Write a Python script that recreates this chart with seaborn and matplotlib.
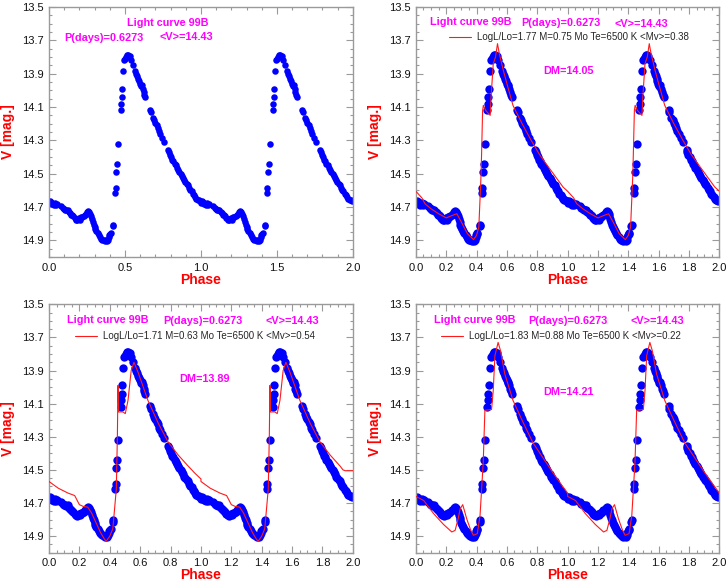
import matplotlib
matplotlib.use("Agg")
import pandas as pd
import matplotlib.pyplot as plt
from matplotlib.ticker import FixedLocator, MultipleLocator, FormatStrFormatter
import seaborn as sns

# observed V light curve of star 99B, one cycle (plotted twice: phase and phase + 1)
OBS_PHASE = [
    0.000, 0.008, 0.015, 0.022, 0.030, 0.038, 0.045, 0.055, 0.080, 0.090,
    0.100, 0.108, 0.115, 0.122, 0.130, 0.138, 0.145, 0.152, 0.160, 0.168,
    0.175, 0.180, 0.186, 0.192, 0.198, 0.205, 0.212, 0.220, 0.228, 0.236,
    0.244, 0.252, 0.258, 0.264, 0.270, 0.276, 0.282, 0.288, 0.294, 0.300,
    0.306, 0.312, 0.320, 0.328, 0.336, 0.344, 0.352, 0.360, 0.368, 0.376,
    0.384, 0.390, 0.394, 0.398, 0.402, 0.406, 0.420, 0.424, 0.436, 0.438,
    0.444, 0.448, 0.455, 0.472, 0.475, 0.478, 0.482, 0.488, 0.496, 0.502,
    0.508, 0.514, 0.520, 0.526, 0.532, 0.540, 0.555, 0.568, 0.575, 0.580,
    0.586, 0.592, 0.598, 0.604, 0.610, 0.616, 0.622, 0.628, 0.634, 0.666,
    0.670, 0.684, 0.692, 0.700, 0.708, 0.716, 0.724, 0.732, 0.745, 0.760,
    0.786, 0.790, 0.796, 0.804, 0.812, 0.818, 0.826, 0.834, 0.842, 0.850,
    0.858, 0.866, 0.874, 0.882, 0.890, 0.898, 0.906, 0.914, 0.922, 0.930,
    0.938, 0.946, 0.954, 0.962, 0.970, 0.978, 0.986, 0.994,
]
OBS_MAG = [
    14.675, 14.665, 14.670, 14.680, 14.685, 14.675, 14.685, 14.680, 14.695, 14.705,
    14.710, 14.715, 14.720, 14.715, 14.730, 14.735, 14.745, 14.750, 14.755, 14.765,
    14.770, 14.775, 14.780, 14.770, 14.765, 14.775, 14.760, 14.760, 14.755, 14.745,
    14.740, 14.730, 14.725, 14.730, 14.740, 14.755, 14.770, 14.790, 14.805, 14.820,
    14.830, 14.845, 14.855, 14.870, 14.880, 14.890, 14.895, 14.900, 14.905, 14.900,
    14.905, 14.895, 14.880, 14.870, 14.860, 14.855, 14.815, 14.805, 14.615, 14.585,
    14.490, 14.440, 14.320, 14.120, 14.080, 14.040, 13.990, 13.885, 13.820, 13.810,
    13.800, 13.790, 13.785, 13.800, 13.795, 13.820, 13.850, 13.885, 13.900, 13.915,
    13.930, 13.945, 13.960, 13.975, 13.970, 13.990, 14.010, 14.025, 14.040, 14.115,
    14.130, 14.165, 14.180, 14.195, 14.210, 14.225, 14.245, 14.260, 14.285, 14.310,
    14.355, 14.370, 14.385, 14.400, 14.415, 14.425, 14.440, 14.450, 14.465, 14.475,
    14.490, 14.500, 14.515, 14.525, 14.540, 14.550, 14.560, 14.570, 14.585, 14.595,
    14.605, 14.620, 14.630, 14.640, 14.650, 14.655, 14.660, 14.665,
]

# pulsation models, one cycle each
MODEL1_PHASE = [0.000, 0.040, 0.060, 0.100, 0.150, 0.200, 0.240, 0.270, 0.300, 0.340,
                0.380, 0.400, 0.415, 0.430, 0.440, 0.445, 0.460, 0.490, 0.495, 0.510,
                0.525, 0.538, 0.550, 0.575, 0.600, 0.640, 0.700, 0.760, 0.815, 0.870,
                0.930, 0.970, 1.000]
MODEL1_MAG = [14.605, 14.645, 14.680, 14.710, 14.740, 14.765, 14.750, 14.740, 14.790, 14.860,
              14.895, 14.870, 14.820, 14.500, 14.120, 14.090, 14.120, 14.150, 14.050, 13.840,
              13.800, 13.720, 13.780, 13.875, 13.960, 14.090, 14.200, 14.300, 14.385, 14.455,
              14.530, 14.580, 14.605]

MODEL2_PHASE = [0.000, 0.060, 0.125, 0.169, 0.200, 0.224, 0.255, 0.280, 0.310, 0.340,
                0.366, 0.377, 0.400, 0.420, 0.435, 0.443, 0.450, 0.454, 0.458, 0.487,
                0.502, 0.520, 0.541, 0.559, 0.586, 0.651, 0.720, 0.783, 0.850, 0.914,
                0.960, 1.000]
MODEL2_MAG = [14.570, 14.610, 14.640, 14.655, 14.710, 14.720, 14.725, 14.760, 14.820, 14.880,
              14.920, 14.930, 14.900, 14.855, 14.700, 14.615, 14.300, 13.990, 14.150, 14.150,
              14.160, 14.080, 13.900, 13.850, 13.910, 14.080, 14.220, 14.330, 14.410, 14.475,
              14.520, 14.555]
# second cycle of model 2 levels off near phase 2
MODEL2_TAIL_PHASE = [1.935, 1.950, 2.000]
MODEL2_TAIL_MAG = [14.500, 14.505, 14.505]

MODEL3_PHASE = [0.000, 0.052, 0.118, 0.183, 0.237, 0.259, 0.280, 0.292, 0.309, 0.335,
                0.360, 0.379, 0.405, 0.423, 0.444, 0.455, 0.499, 0.510, 0.521, 0.542,
                0.558, 0.586, 0.640, 0.700, 0.771, 0.840, 0.902, 0.960, 1.000]
MODEL3_MAG = [14.660, 14.685, 14.765, 14.830, 14.875, 14.865, 14.790, 14.735, 14.710, 14.795,
              14.860, 14.895, 14.885, 14.775, 14.455, 14.140, 14.135, 14.020, 13.810, 13.730,
              13.780, 13.920, 14.080, 14.200, 14.335, 14.430, 14.515, 14.590, 14.640]

MODEL_LABELS = [
    "LogL/Lo=1.77 M=0.75 Mo Te=6500 K <Mv>=0.38",
    "LogL/Lo=1.71 M=0.63 Mo Te=6500 K <Mv>=0.54",
    "LogL/Lo=1.83 M=0.88 Mo Te=6500 K <Mv>=0.22",
]
DM_LABELS = ["DM=14.05", "DM=13.89", "DM=14.21"]
Y_TICKS = [13.5, 13.7, 13.9, 14.1, 14.3, 14.5, 14.7, 14.9]

MAGENTA = "#ff00ff"
GREY = "#9a9a9a"

sns.set_style("ticks")
plt.rcParams["font.family"] = ["Liberation Sans", "DejaVu Sans"]


def two_cycles(phase, mag, tail_phase=None, tail_mag=None):
    p2 = [p + 1 for p in phase]
    m2 = list(mag)
    if tail_phase is not None:
        keep = [i for i, p in enumerate(p2) if p < tail_phase[0]]
        p2 = [p2[i] for i in keep] + list(tail_phase)
        m2 = [m2[i] for i in keep] + list(tail_mag)
    return pd.DataFrame({"phase": list(phase) + p2, "mag": list(mag) + m2})


def style_axes(ax, major, minor):
    ax.set_xlim(0, 2.0)
    ax.set_ylim(15.0, 13.5)
    ax.xaxis.set_major_locator(MultipleLocator(major))
    ax.xaxis.set_minor_locator(MultipleLocator(minor))
    ax.xaxis.set_major_formatter(FormatStrFormatter("%.1f"))
    ax.yaxis.set_major_locator(FixedLocator(Y_TICKS))
    ax.yaxis.set_minor_locator(MultipleLocator(0.05))
    ax.yaxis.set_major_formatter(FormatStrFormatter("%.1f"))
    ax.tick_params(which="both", direction="in", top=True, right=True,
                   color=GREY, width=0.8, labelsize=8, labelcolor="#111111", pad=4)
    ax.tick_params(which="major", length=5)
    ax.tick_params(which="minor", length=2.5)
    for sp in ax.spines.values():
        sp.set_color(GREY)
        sp.set_linewidth(1.0)
    ax.set_xlabel("Phase", color="red", fontweight="bold", fontsize=10, labelpad=0)
    ax.set_ylabel("V [mag.]", color="red", fontweight="bold", fontsize=10, labelpad=5)


def magenta(ax, x, y, s):
    ax.text(x, y, s, transform=ax.transAxes, ha="center", va="center",
            color=MAGENTA, fontweight="bold", fontsize=7.8)


obs = two_cycles(OBS_PHASE, OBS_MAG)
models = [
    two_cycles(MODEL1_PHASE, MODEL1_MAG),
    two_cycles(MODEL2_PHASE, MODEL2_MAG, MODEL2_TAIL_PHASE, MODEL2_TAIL_MAG),
    two_cycles(MODEL3_PHASE, MODEL3_MAG),
]

fig = plt.figure(figsize=(7.27, 5.83), dpi=100)
axes = [
    fig.add_axes([0.0674, 0.559, 0.418, 0.429]),
    fig.add_axes([0.572, 0.559, 0.4175, 0.429]),
    fig.add_axes([0.0674, 0.052, 0.418, 0.426]),
    fig.add_axes([0.572, 0.052, 0.4175, 0.426]),
]

# panel 1: observations only
ax = axes[0]
sns.scatterplot(data=obs, x="phase", y="mag", ax=ax, color="#0000ff",
                s=22, linewidth=0, zorder=2)
style_axes(ax, 0.5, 0.1)
magenta(ax, 0.392, 0.937, "Light curve 99B")
magenta(ax, 0.179, 0.875, "P(days)=0.6273")
magenta(ax, 0.453, 0.879, "<V>=14.43")

# panels 2-4: observations with models
title_pos = [
    [(0.182, 0.941), (0.478, 0.935), (0.744, 0.931)],
    [(0.193, 0.937), (0.505, 0.933), (0.801, 0.933)],
    [(0.193, 0.937), (0.502, 0.933), (0.794, 0.933)],
]
dm_pos = [(0.504, 0.745), (0.512, 0.700), (0.504, 0.647)]
legend_pos = [(0.108, 0.880), (0.085, 0.871), (0.082, 0.871)]

for i, ax in enumerate(axes[1:]):
    sns.scatterplot(data=obs, x="phase", y="mag", ax=ax, color="#0000ff",
                    s=36, linewidth=0, zorder=2)
    sns.lineplot(data=models[i], x="phase", y="mag", ax=ax, color="#ff1a1a",
                 linewidth=0.8, sort=False, estimator=None, zorder=3,
                 label=MODEL_LABELS[i])
    style_axes(ax, 0.2, 0.05)
    t = title_pos[i]
    magenta(ax, t[0][0], t[0][1], "Light curve 99B")
    magenta(ax, t[1][0], t[1][1], "P(days)=0.6273")
    magenta(ax, t[2][0], t[2][1], "<V>=14.43")
    magenta(ax, dm_pos[i][0], dm_pos[i][1], DM_LABELS[i])
    ax.legend(loc="center left", bbox_to_anchor=legend_pos[i], frameon=False,
              fontsize=7.0, handlelength=2.3, handletextpad=0.6,
              borderpad=0, borderaxespad=0)

fig.savefig("out.png", dpi=100)
